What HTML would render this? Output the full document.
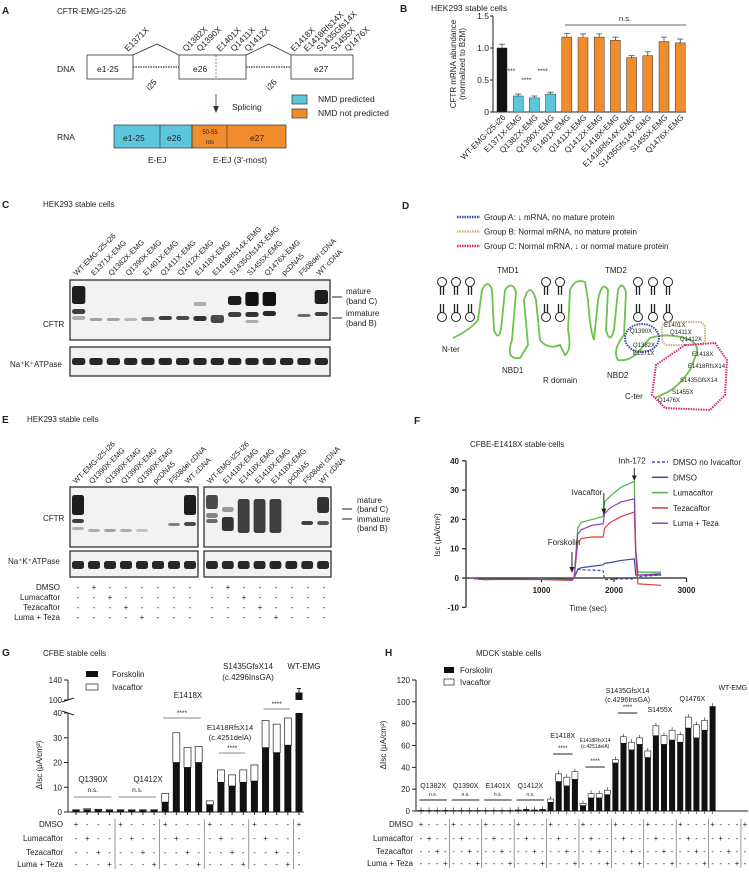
<!DOCTYPE html>
<html><head><meta charset="utf-8"><style>
html,body{margin:0;padding:0;background:#fff}
svg{display:block;font-family:"Liberation Sans",Arial,sans-serif}
text{fill:#222}
</style></head><body>
<svg id="fig" width="749" height="872" viewBox="0 0 749 872" xmlns="http://www.w3.org/2000/svg">
<g font-size="8.5">
<text x="2" y="14" font-size="10" font-weight="bold">A</text>
<text x="57" y="14" font-size="8">CFTR-EMG-i25-i26</text>
<text x="57" y="72">DNA</text>
<rect x="87" y="55" width="46" height="24" fill="#fff" stroke="#333" stroke-width="0.8"/>
<text x="97" y="72">e1-25</text>
<line x1="133" y1="67" x2="179" y2="67" stroke="#333" stroke-dasharray="1.5,1" stroke-width="1.2"/>
<rect x="179" y="55" width="67" height="24" fill="#fff" stroke="#333" stroke-width="0.8"/>
<line x1="216" y1="55" x2="216" y2="79" stroke="#333" stroke-dasharray="2,1.5" stroke-width="0.6"/>
<text x="193" y="72">e26</text>
<line x1="246" y1="67" x2="290" y2="67" stroke="#333" stroke-dasharray="1.5,1" stroke-width="1.2"/>
<rect x="291" y="55" width="62" height="24" fill="#fff" stroke="#333" stroke-width="0.8"/>
<text x="314" y="72">e27</text>
<polyline points="133,55 157,44 179,55" fill="none" stroke="#333" stroke-width="0.8"/>
<polyline points="246,55 269,44 291,55" fill="none" stroke="#333" stroke-width="0.8"/>
<text transform="translate(150,91) rotate(-50)">i25</text>
<text transform="translate(270,91) rotate(-50)">i26</text>
<text transform="translate(128,52) rotate(-45)">E1371X</text>
<text transform="translate(186,52) rotate(-45)">Q1382X</text>
<text transform="translate(200,52) rotate(-45)">Q1390X</text>
<text transform="translate(220,52) rotate(-45)">E1401X</text>
<text transform="translate(234,52) rotate(-45)">Q1411X</text>
<text transform="translate(248,52) rotate(-45)">Q1412X</text>
<text transform="translate(294,52) rotate(-45)">E1418X</text>
<text transform="translate(307,52) rotate(-45)">E1418Rfs14X</text>
<text transform="translate(320,52) rotate(-45)">S1435Gfs14X</text>
<text transform="translate(334,52) rotate(-45)">S1455X</text>
<text transform="translate(348,52) rotate(-45)">Q1476X</text>
<line x1="216" y1="94" x2="216" y2="110" stroke="#333" stroke-width="0.8"/>
<polygon points="213,106 219,106 216,113" fill="#333"/>
<text x="232" y="110">Splicing</text>
<rect x="292" y="95" width="15" height="9" fill="#5bc6dc" stroke="#333" stroke-width="0.7"/>
<text x="318" y="102">NMD predicted</text>
<rect x="292" y="109" width="15" height="9" fill="#f08c2c" stroke="#333" stroke-width="0.7"/>
<text x="318" y="116">NMD not predicted</text>
<text x="57" y="140">RNA</text>
<rect x="114" y="125" width="78" height="23" fill="#5bc6dc" stroke="#333" stroke-width="0.7"/>
<line x1="160" y1="125" x2="160" y2="148" stroke="#333" stroke-width="0.6"/>
<rect x="192" y="125" width="94" height="23" fill="#f08c2c" stroke="#333" stroke-width="0.7"/>
<line x1="192" y1="125" x2="192" y2="148" stroke="#333" stroke-dasharray="2,1.5" stroke-width="0.6"/>
<line x1="227" y1="125" x2="227" y2="148" stroke="#333" stroke-width="0.6"/>
<text x="123" y="141">e1-25</text><text x="167" y="141">e26</text>
<text x="210" y="134" font-size="6" text-anchor="middle">50-55</text><text x="210" y="144" font-size="6" text-anchor="middle">nts</text>
<text x="250" y="141">e27</text>
<text x="148" y="163">E-EJ</text><text x="213" y="163">E-EJ (3'-most)</text>
</g>
<g id="panelB" font-size="8.5"></g>
<g id="panelC" font-size="7.5"></g>
<g id="panelD" font-size="7"></g>
<g id="panelE" font-size="7.5"></g>
<g id="panelF" font-size="8"></g>
<g id="panelG" font-size="8"></g>
<g id="panelH" font-size="8"></g>
</svg>
<script>
const NS='http://www.w3.org/2000/svg';
function mk(p,tag,attrs,txt){const e=document.createElementNS(NS,tag);for(const k in attrs)e.setAttribute(k,attrs[k]);if(txt!==undefined)e.textContent=txt;p.appendChild(e);return e;}

const bCategories=['WT-EMG-i25-i26','E1371X-EMG','Q1382X-EMG','Q1390X-EMG','E1401X-EMG','Q1411X-EMG','Q1412X-EMG','E1418X-EMG','E1418Rfs14X-EMG','S1435Gfs14X-EMG','S1455X-EMG','Q1476X-EMG'];
const bValues=[1.00,0.25,0.22,0.28,1.17,1.16,1.17,1.12,0.85,0.88,1.10,1.08];
const bErrors=[0.06,0.03,0.03,0.03,0.06,0.06,0.05,0.05,0.03,0.06,0.07,0.06];
const bTicks=[0,0.5,1.0,1.5];
const bTickLabels=['0','0.5','1.0','1.5'];

const fTime=[0,200,1000,1420,1450,1500,1550,1700,1850,1870,1950,2100,2280,2300,2330,2650];
const fDmsoNoIva=[0,-0.5,-0.3,-0.5,0,3,2.8,2.7,2.5,-0.5,-0.5,-0.3,-0.3,0,0.5,1];
const fDmso=[0,-0.5,-0.3,-0.5,0,3,3.5,4,4.5,5,5.3,6,6.5,1,1,1];
const fLuma=[0,-0.5,-0.3,-0.5,0,17,19,20,21,26,28,31,33,10,2,2];
const fTeza=[0,-0.5,-0.5,-0.8,0,12,13.5,14,14,17,19,21,22.5,8,-2,-2.5];
const fLumaTeza=[0,-0.5,-0.4,-0.6,0,15,16.5,18,18.5,22,24,26,27,9,1,1.5];
const fYTicks=[-10,0,10,20,30,40];
const fXTicks=[1000,2000,3000];

const gForskolin=[0.8,0.9,0.8,0.8, 0.8,0.8,0.8,0.8, 4,20,18,20, 3,12,10.5,12, 12.5,26,24,27, 115];
const gTotal=[0.9,1.3,1.1,0.9, 0.9,0.9,0.9,0.9, 7.5,32,26,26.5, 4.5,17,15,17, 19,37,35.5,38, 115];
const gYTicks=[0,10,20,30,40];
const gUpperTicks=[100,140];

const hForskolin=[0.5,0.4,0.4,0.5, 0.4,0.4,0.4,0.4, 0.4,0.4,0.4,0.4, 0.8,1,0.8,1, 8,27,23,29, 5,12,12,15, 44,62,56,61, 49,69,61,65, 63,76,67,74, 96];
const hTotal=[0.6,0.5,0.5,0.6, 0.5,0.5,0.5,0.5, 0.5,0.5,0.5,0.5, 1,1.5,1,1.5, 11,34,31,36, 7,16,16,19, 47,68,63,67, 55,78,69,74, 70,86,79,83, 96];
const hYTicks=[0,20,40,60,80,100,120];

(function(){
const g=document.getElementById('panelB');
mk(g,'text',{x:400,y:12,'font-size':10,'font-weight':'bold'},'B');
mk(g,'text',{x:431,y:11},'HEK293 stable cells');
const y0=112,yTop=16,x0=493;
const ys=v=>y0-(v/1.5)*(y0-yTop);
const xs=i=>502+i*16.2;
mk(g,'line',{x1:x0,y1:yTop,x2:x0,y2:y0,stroke:'#222','stroke-width':1});
mk(g,'line',{x1:x0,y1:y0,x2:686,y2:y0,stroke:'#222','stroke-width':1});
bTicks.forEach((t,i)=>{mk(g,'line',{x1:x0-3,y1:ys(t),x2:x0,y2:ys(t),stroke:'#222'});mk(g,'text',{x:x0-4,y:ys(t)+3,'text-anchor':'end'},bTickLabels[i]);});
mk(g,'text',{transform:'translate(456,64) rotate(-90)','text-anchor':'middle','font-size':8},'CFTR mRNA abundance');
mk(g,'text',{transform:'translate(465,64) rotate(-90)','text-anchor':'middle','font-size':8},'(normalized to B2M)');
bValues.forEach((v,i)=>{
 const col=i===0?'#111':(i<4?'#5bc6dc':'#f08c2c');
 const r=mk(g,'rect',{x:xs(i)-5,y:ys(v),width:10,height:y0-ys(v),fill:col,stroke:'#333','stroke-width':0.5});
 
 
 mk(g,'line',{x1:xs(i),y1:ys(v),x2:xs(i),y2:ys(v+bErrors[i]),stroke:'#333','stroke-width':0.7});
 mk(g,'line',{x1:xs(i)-3,y1:ys(v+bErrors[i]),x2:xs(i)+3,y2:ys(v+bErrors[i]),stroke:'#333','stroke-width':0.7});
 mk(g,'text',{transform:`translate(${xs(i)+4},${y0+6}) rotate(-45)`,'text-anchor':'end','font-size':8},bCategories[i]);
});
[[1,73],[2,82],[3,73]].forEach(a=>mk(g,'text',{x:xs(a[0])-8,y:a[1],'text-anchor':'middle','font-size':6.5},'****'));
mk(g,'line',{x1:565,y1:25,x2:686,y2:25,stroke:'#333','stroke-width':0.8});
mk(g,'text',{x:625,y:21,'text-anchor':'middle','font-size':7.5},'n.s.');
})();

function blot(g,x,y,w,h,n,bands){
 mk(g,'rect',{x:x,y:y,width:w,height:h,fill:'#f2f2f2',stroke:'#222','stroke-width':1.2});
 const lw=w/n;
 bands.forEach((b,i)=>{ b.forEach(bb=>{ if(bb[1]>0) mk(g,'rect',{x:x+i*lw+2,y:y+bb[0],width:lw-4,height:bb[2],rx:2.5,fill:'#111','fill-opacity':bb[1]}); }); });
}
(function(){
const g=document.getElementById('panelC');
mk(g,'text',{x:2,y:208,'font-size':10,'font-weight':'bold'},'C');
mk(g,'text',{x:43,y:207,'font-size':8},'HEK293 stable cells');
const labs=['WT-EMG-i25-i26','E1371X-EMG','Q1382X-EMG','Q1390X-EMG','E1401X-EMG','Q1411X-EMG','Q1412X-EMG','E1418X-EMG','E1418Rfs14X-EMG','S1435Gfs14X-EMG','S1455X-EMG','Q1476X-EMG','pcDNA5','F508del cDNA','WT cDNA'];
const n=labs.length,x=70,w=260,lw=w/n;
labs.forEach((l,i)=>mk(g,'text',{transform:`translate(${x+i*lw+lw/2-2},276) rotate(-45)`},l));
const bands=[[[6,0.95,18],[29,0.8,5],[36,0.3,4]],[[38,0.35,3]],[[38,0.35,3]],[[38,0.25,3]],[[37,0.5,4]],[[36,0.8,4]],[[36,0.75,4]],[[22,0.3,4],[36,0.85,5]],[[35,0.75,8]],[[16,0.95,9],[32,0.8,5]],[[12,1,14],[32,0.85,5],[40,0.3,3]],[[12,1,14],[31,0.9,5]],[],[[34,0.6,3]],[[10,0.95,14],[32,0.8,4]]];
blot(g,x,280,w,60,n,bands);
blot(g,x,347,w,29,n,labs.map(()=>[[11,0.9,7]]));
mk(g,'text',{x:43,y:327,'font-size':8},'CFTR');
mk(g,'text',{x:10,y:367,'font-size':8},'Na⁺K⁺ATPase');
mk(g,'line',{x1:332,y1:297,x2:342,y2:297,stroke:'#222'});mk(g,'line',{x1:332,y1:318,x2:342,y2:318,stroke:'#222'});
mk(g,'text',{x:346,y:294,'font-size':8},'mature');mk(g,'text',{x:346,y:304,'font-size':8},'(band C)');
mk(g,'text',{x:346,y:316,'font-size':8},'immature');mk(g,'text',{x:346,y:326,'font-size':8},'(band B)');
})();

(function(){
const g=document.getElementById('panelD');
mk(g,'text',{x:402,y:209,'font-size':10,'font-weight':'bold'},'D');
const leg=[['#3a4aa8','Group A:  ↓ mRNA,  no mature protein'],['#c9b48a','Group B: Normal mRNA, no mature protein'],['#d8267a','Group C: Normal mRNA, ↓ or normal mature protein']];
leg.forEach((l,i)=>{mk(g,'line',{x1:457,y1:217+i*14.5,x2:480,y2:217+i*14.5,stroke:l[0],'stroke-width':2.5,'stroke-dasharray':'1.5,1'});mk(g,'text',{x:484,y:220+i*14.5,'font-size':8},l[1]);});
const lipX=[442,456,470,546,560,638,653,668];
lipX.forEach(x=>{[[282,1],[317,-1]].forEach(([y,d])=>{mk(g,'circle',{cx:x,cy:y,r:4.5,fill:'#fff',stroke:'#222','stroke-width':1});mk(g,'line',{x1:x-1.5,y1:y+d*4.5,x2:x-1.5,y2:y+d*13,stroke:'#222','stroke-width':1.3});mk(g,'line',{x1:x+1.5,y1:y+d*4.5,x2:x+1.5,y2:y+d*13,stroke:'#222','stroke-width':1.3});});});
mk(g,'path',{d:'M453,338 Q470,330 478,320 L482,290 Q488,278 492,290 L494,330 Q500,345 502,320 L505,290 Q512,280 516,292 L512,340 Q505,360 520,358 L528,345 L524,300 Q530,280 536,300 L540,340 Q548,350 560,345 L565,355 Q572,350 568,330 L570,290 Q575,278 585,282 L588,300 Q590,330 594,340 L598,300 Q602,280 608,290 L606,330 Q610,345 614,330 L618,290 Q622,280 626,292 L624,335 Q612,350 618,360 Q630,362 640,350 L650,338 Q670,332 690,340 Q700,345 696,355 L690,370 Q680,385 668,392 L655,398',fill:'none',stroke:'#6cc24a','stroke-width':1.8});
mk(g,'text',{x:497,y:273,'font-size':8},'TMD1');mk(g,'text',{x:605,y:273,'font-size':8},'TMD2');
mk(g,'text',{x:442,y:352,'font-size':8},'N-ter');mk(g,'text',{x:502,y:373,'font-size':8},'NBD1');
mk(g,'text',{x:543,y:383,'font-size':8},'R domain');mk(g,'text',{x:607,y:378,'font-size':8},'NBD2');mk(g,'text',{x:625,y:399,'font-size':8},'C-ter');
mk(g,'ellipse',{cx:642,cy:338,rx:17,ry:14,fill:'none',stroke:'#3a4aa8','stroke-width':2,'stroke-dasharray':'1.5,1'});
mk(g,'rect',{x:662,y:322,width:43,height:23,rx:6,fill:'none',stroke:'#c9b48a','stroke-width':2,'stroke-dasharray':'1.5,1'});
mk(g,'path',{d:'M685,345 L715,343 L727,360 L725,395 L710,410 L665,408 L652,395 L656,365 Z',fill:'none',stroke:'#d8267a','stroke-width':2,'stroke-dasharray':'1.5,1'});
[['Q1390X',630,333],['Q1382X',633,347],['E1371X',633,355],['E1401X',664,327],['Q1411X',670,334],['Q1412X',680,341],['E1418X',692,356],['E1418RfsX14',688,368],['S1435GfsX14',680,382],['S1455X',672,394],['Q1476X',658,402]].forEach(a=>mk(g,'text',{x:a[1],y:a[2],'font-size':6},a[0]));
})();

(function(){
const g=document.getElementById('panelE');
mk(g,'text',{x:2,y:423,'font-size':10,'font-weight':'bold'},'E');
mk(g,'text',{x:27,y:422,'font-size':8},'HEK293 stable cells');
const L=['WT-EMG-i25-i26','Q1390X-EMG','Q1390X-EMG','Q1390X-EMG','Q1390X-EMG','pcDNA5','F508del cDNA','WT cDNA'];
const R=['WT-EMG-i25-i26','E1418X-EMG','E1418X-EMG','E1418X-EMG','E1418X-EMG','pcDNA5','F508del cDNA','WT cDNA'];
const lw=128/8;
L.forEach((l,i)=>mk(g,'text',{transform:`translate(${70+i*lw+lw/2-2},484) rotate(-45)`},l));
R.forEach((l,i)=>mk(g,'text',{transform:`translate(${204+i*lw+lw/2-2},484) rotate(-45)`},l));
blot(g,70,487,128,60,8,[[[8,0.95,20],[32,0.8,4],[40,0.3,3]],[[42,0.3,3]],[[42,0.35,3]],[[42,0.3,3]],[[42,0.2,3]],[],[[36,0.5,3]],[[8,0.95,20],[35,0.75,4]]]);
blot(g,204,487,127,60,8,[[[8,0.75,14],[26,0.5,5],[32,0.6,4]],[[20,0.4,5],[30,0.85,14]],[[12,0.8,34]],[[12,0.8,34]],[[12,0.8,34]],[],[[34,0.8,4]],[[10,0.85,16],[34,0.7,4]]]);
blot(g,70,551,128,26,8,L.map(()=>[[10,0.9,8]]));
blot(g,204,551,127,26,8,R.map(()=>[[10,0.9,8]]));
mk(g,'text',{x:43,y:521,'font-size':8},'CFTR');
mk(g,'text',{x:8,y:564,'font-size':8},'Na⁺K⁺ATPase');
mk(g,'line',{x1:342,y1:509,x2:352,y2:509,stroke:'#222'});mk(g,'line',{x1:342,y1:519,x2:352,y2:519,stroke:'#222'});
mk(g,'text',{x:357,y:503,'font-size':8},'mature');mk(g,'text',{x:357,y:512,'font-size':8},'(band C)');
mk(g,'text',{x:357,y:522,'font-size':8},'immature');mk(g,'text',{x:357,y:531,'font-size':8},'(band B)');
const rows=['DMSO','Lumacaftor','Tezacaftor','Luma + Teza'];
rows.forEach((r,ri)=>{const y=590+ri*10;mk(g,'text',{x:60,y:y,'text-anchor':'end','font-size':8},r);
 for(let i=0;i<16;i++){const x=(i<8?70:204)+(i%8)*lw+lw/2;const k=i%8;const plus=(k>=1&&k<=4&&k-1===ri);mk(g,'text',{x:x,y:y,'text-anchor':'middle','font-size':8},plus?'+':'-');}});
})();

(function(){
const g=document.getElementById('panelF');
mk(g,'text',{x:414,y:424,'font-size':10,'font-weight':'bold'},'F');
mk(g,'text',{x:470,y:447,'font-size':8}, 'CFBE-E1418X stable cells');
const ys=v=>578-v*2.93, xs=t=>469+t*0.0725;
mk(g,'line',{x1:466,y1:ys(40),x2:466,y2:ys(-10),stroke:'#222','stroke-width':1.2});
mk(g,'line',{x1:466,y1:ys(0),x2:xs(3000),y2:ys(0),stroke:'#222','stroke-width':1.2});
fYTicks.forEach(t=>{mk(g,'line',{x1:462,y1:ys(t),x2:466,y2:ys(t),stroke:'#222','stroke-width':1.2});mk(g,'text',{x:459,y:ys(t)+3,'text-anchor':'end','font-weight':'bold'},String(t));});
fXTicks.forEach(t=>{mk(g,'line',{x1:xs(t),y1:ys(0),x2:xs(t),y2:ys(0)+4,stroke:'#222','stroke-width':1.2});mk(g,'text',{x:xs(t),y:ys(0)+15,'text-anchor':'middle','font-weight':'bold'},String(t));});
mk(g,'text',{x:588,y:611,'text-anchor':'middle'},'Time (sec)');
mk(g,'text',{transform:'translate(440,535) rotate(-90)','text-anchor':'middle'},'Isc (μA/cm²)');
const series=[[fDmsoNoIva,'#3a4aa8','3,2','DMSO no Ivacaftor'],[fDmso,'#3a4aa8','','DMSO'],[fLuma,'#4caf50','','Lumacaftor'],[fTeza,'#e53935','','Tezacaftor'],[fLumaTeza,'#8e44ad','','Luma + Teza']];
series.forEach((s,si)=>{
 const pts=fTime.map((t,i)=>xs(t)+','+ys(s[0][i])).join(' ');
 const pl=mk(g,'polyline',{points:pts,fill:'none',stroke:s[1],'stroke-width':1.2,'stroke-dasharray':s[2]});
 
 
 const ly=462+si*15.3;
 mk(g,'line',{x1:652,y1:ly,x2:668,y2:ly,stroke:s[1],'stroke-width':1.5,'stroke-dasharray':s[2]});
 mk(g,'text',{x:673,y:ly+3},s[3]);
});
mk(g,'text',{x:564,y:545,'text-anchor':'middle'},'Forskolin');
mk(g,'line',{x1:xs(1420),y1:ys(0)-26,x2:xs(1420),y2:ys(0)-8,stroke:'#222'});mk(g,'polygon',{points:`${xs(1420)-2.5},${ys(0)-11} ${xs(1420)+2.5},${ys(0)-11} ${xs(1420)},${ys(0)-5}`,fill:'#222'});
mk(g,'text',{x:587,y:495,'text-anchor':'middle'},'Ivacaftor');
mk(g,'line',{x1:xs(1860),y1:ys(29),x2:xs(1860),y2:ys(23),stroke:'#222'});mk(g,'polygon',{points:`${xs(1860)-2.5},${ys(23)-2} ${xs(1860)+2.5},${ys(23)-2} ${xs(1860)},${ys(23)+4}`,fill:'#222'});
mk(g,'text',{x:xs(2250),y:ys(39),'text-anchor':'middle'},'Inh-172');
mk(g,'line',{x1:xs(2280),y1:ys(37.5),x2:xs(2280),y2:ys(34.5),stroke:'#222'});mk(g,'polygon',{points:`${xs(2280)-2.5},${ys(35)} ${xs(2280)+2.5},${ys(35)} ${xs(2280)},${ys(33.5)+1}`,fill:'#222'});
})();

function table(g,n,groups,x0,dx,ys,labelX){
 const rows=['DMSO','Lumacaftor','Tezacaftor','Luma + Teza'];
 rows.forEach((r,ri)=>{mk(g,'text',{x:labelX,y:ys[ri]+3,'text-anchor':'end'},r);
  for(let i=0;i<n;i++){const k=i%4;const last=i===n-1;const plus=last?(ri===0):(k===ri);mk(g,'text',{x:x0+i*dx,y:ys[ri]+3,'text-anchor':'middle'},plus?'+':'-');}});
 for(let gi=1;gi<=groups;gi++){const x=x0+(gi*4-0.5)*dx;mk(g,'line',{x1:x,y1:ys[0]-5,x2:x,y2:ys[3]+5,stroke:'#555','stroke-width':0.6});}
}
(function(){
const g=document.getElementById('panelG');
mk(g,'text',{x:2,y:656,'font-size':10,'font-weight':'bold'},'G');
mk(g,'text',{x:43,y:656},'CFBE stable cells');
const y0=812,ys=v=>v<=40?y0-v*(99/40):700-(v-100)*(20/40);
const xs=i=>76+i*11.15;
mk(g,'line',{x1:68,y1:y0,x2:68,y2:713,stroke:'#222'});mk(g,'line',{x1:68,y1:700,x2:68,y2:680,stroke:'#222'});
mk(g,'line',{x1:62,y1:711,x2:74,y2:715,stroke:'#222'});mk(g,'line',{x1:62,y1:702,x2:74,y2:698,stroke:'#222'});
gYTicks.forEach(t=>{mk(g,'line',{x1:64,y1:ys(t),x2:68,y2:ys(t),stroke:'#222'});mk(g,'text',{x:62,y:ys(t)+3,'text-anchor':'end'},String(t));});
gUpperTicks.forEach(t=>{mk(g,'line',{x1:64,y1:ys(t),x2:68,y2:ys(t),stroke:'#222'});mk(g,'text',{x:62,y:ys(t)+3,'text-anchor':'end'},String(t));});
mk(g,'line',{x1:68,y1:y0,x2:304,y2:y0,stroke:'#222'});
mk(g,'text',{transform:'translate(42,765) rotate(-90)','text-anchor':'middle'},'ΔIsc (μA/cm²)');
gForskolin.forEach((f,i)=>{
 const t=gTotal[i];
 if(i===20){const r=mk(g,'rect',{x:xs(i)-3.5,y:713,width:7,height:y0-713,fill:'#111'});
  mk(g,'rect',{x:xs(i)-3.5,y:ys(f),width:7,height:700-ys(f),fill:'#111'});mk(g,'line',{x1:xs(i),y1:ys(f),x2:xs(i),y2:ys(f+8),stroke:'#222'});mk(g,'line',{x1:xs(i)-2,y1:ys(f+8),x2:xs(i)+2,y2:ys(f+8),stroke:'#222'});}
 else{
 const ri=mk(g,'rect',{x:xs(i)-3.5,y:ys(t),width:7,height:ys(f)-ys(t),fill:'#fff',stroke:'#222','stroke-width':0.7});
 
 const rf=mk(g,'rect',{x:xs(i)-3.5,y:ys(f),width:7,height:y0-ys(f),fill:'#111'});
 
 }
 mk(g,'line',{x1:xs(i),y1:y0,x2:xs(i),y2:y0+3,stroke:'#222'});
});
mk(g,'rect',{x:86,y:671,width:12,height:6,fill:'#111'});mk(g,'text',{x:112,y:677},'Forskolin');
mk(g,'rect',{x:86,y:684,width:12,height:6,fill:'#fff',stroke:'#222','stroke-width':0.7});mk(g,'text',{x:112,y:690},'Ivacaftor');
[['Q1390X',93,782],['Q1412X',148,782],['E1418X',188,698],['S1435GfsX14',248,669],['(c.4296InsGA)',248,680],['WT-EMG',304,669]].forEach(a=>mk(g,'text',{x:a[1],y:a[2],'text-anchor':'middle'},a[0]));
mk(g,'text',{x:230,y:730,'text-anchor':'middle','font-size':7.5},'E1418RfsX14');mk(g,'text',{x:230,y:740,'text-anchor':'middle','font-size':7.5},'(c.4251delA)');
[[0,3,797,'n.s.',792],[4,7,797,'n.s.',792],[8,11,718,'****',715],[13,15,753,'****',750],[17,19,709,'****',706]].forEach(a=>{mk(g,'line',{x1:xs(a[0])-2,y1:a[2],x2:xs(a[1])+2,y2:a[2],stroke:'#888'});mk(g,'text',{x:(xs(a[0])+xs(a[1]))/2,y:a[4],'text-anchor':'middle','font-size':6.5},a[3]);});
table(g,21,5,76,11.15,[824,838,852,864],63);
})();

(function(){
const g=document.getElementById('panelH');
mk(g,'text',{x:385,y:656,'font-size':10,'font-weight':'bold'},'H');
mk(g,'text',{x:476,y:656},'MDCK stable cells');
const y0=811,ys=v=>y0-v*(131/120),xs=i=>421+i*8.1;
mk(g,'line',{x1:416,y1:y0,x2:416,y2:680,stroke:'#222'});mk(g,'line',{x1:416,y1:y0,x2:748,y2:y0,stroke:'#222'});
hYTicks.forEach(t=>{mk(g,'line',{x1:412,y1:ys(t),x2:416,y2:ys(t),stroke:'#222'});mk(g,'text',{x:410,y:ys(t)+3,'text-anchor':'end'},String(t));});
mk(g,'text',{transform:'translate(386,745) rotate(-90)','text-anchor':'middle'},'ΔIsc (μA/cm²)');
hForskolin.forEach((f,i)=>{const t=hTotal[i];
 const ri=mk(g,'rect',{x:xs(i)-3,y:ys(t),width:6,height:ys(f)-ys(t),fill:'#fff',stroke:'#222','stroke-width':0.6});
 
 const rf=mk(g,'rect',{x:xs(i)-3,y:ys(f),width:6,height:y0-ys(f),fill:'#111'});
 
 mk(g,'line',{x1:xs(i),y1:ys(t),x2:xs(i),y2:ys(t)-3,stroke:'#222','stroke-width':0.6});
 mk(g,'line',{x1:xs(i),y1:y0,x2:xs(i),y2:y0+3,stroke:'#222','stroke-width':0.6});});
mk(g,'rect',{x:444,y:667,width:10,height:6,fill:'#111'});mk(g,'text',{x:460,y:673},'Forskolin');
mk(g,'rect',{x:444,y:679,width:10,height:6,fill:'#fff',stroke:'#222','stroke-width':0.7});mk(g,'text',{x:460,y:685},'Ivacaftor');
[['Q1382X',1.5],['Q1390X',5.5],['E1401X',9.5],['Q1412X',13.5]].forEach(a=>{mk(g,'text',{x:xs(a[1]),y:788,'text-anchor':'middle','font-size':7},a[0]);mk(g,'text',{x:xs(a[1]),y:796,'text-anchor':'middle','font-size':5},'n.s.');mk(g,'line',{x1:xs(a[1]-1.7),y1:800,x2:xs(a[1]+1.7),y2:800,stroke:'#222'});});
mk(g,'text',{x:xs(17.5),y:738,'text-anchor':'middle','font-size':7},'E1418X');
mk(g,'text',{x:xs(17.5),y:750,'text-anchor':'middle','font-size':6},'****');mk(g,'line',{x1:xs(16.3),y1:754,x2:xs(18.7),y2:754,stroke:'#222'});
mk(g,'text',{x:xs(21.5),y:742,'text-anchor':'middle','font-size':5},'E1418RfsX14');mk(g,'text',{x:xs(21.5),y:748,'text-anchor':'middle','font-size':5},'(c.4251delA)');
mk(g,'text',{x:xs(21.5),y:763,'text-anchor':'middle','font-size':6},'****');mk(g,'line',{x1:xs(20.3),y1:767,x2:xs(22.7),y2:767,stroke:'#222'});
mk(g,'text',{x:xs(25.5),y:693,'text-anchor':'middle','font-size':7},'S1435GfsX14');mk(g,'text',{x:xs(25.5),y:702,'text-anchor':'middle','font-size':7},'(c.4296InsGA)');
mk(g,'text',{x:xs(25.5),y:709,'text-anchor':'middle','font-size':6},'****');mk(g,'line',{x1:xs(24.3),y1:713,x2:xs(26.7),y2:713,stroke:'#222'});
mk(g,'text',{x:xs(29.5),y:712,'text-anchor':'middle','font-size':7},'S1455X');
mk(g,'text',{x:xs(33.5),y:701,'text-anchor':'middle','font-size':7},'Q1476X');
mk(g,'text',{x:xs(38.5),y:690,'text-anchor':'middle','font-size':7},'WT-EMG');
table(g,41,10,421,8.1,[824,838,851,863],413);
})();
</script>
</body></html>
